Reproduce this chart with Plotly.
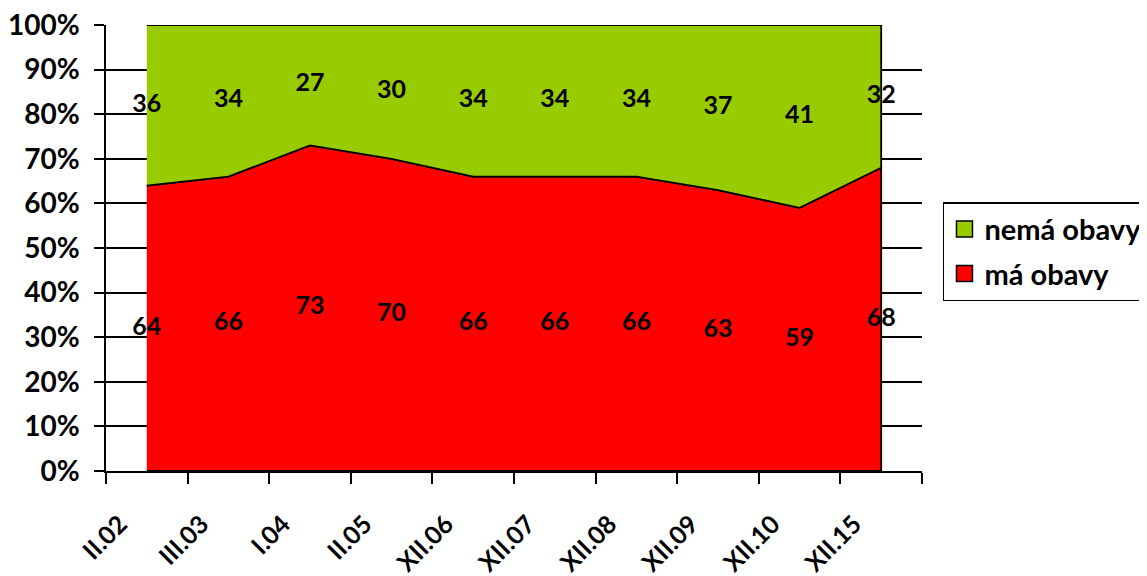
import plotly.graph_objects as go

categories = ["II.02", "III.03", "I.04", "II.05", "XII.06", "XII.07", "XII.08", "XII.09", "XII.10", "XII.15"]
ma_obavy = [64, 66, 73, 70, 66, 66, 66, 63, 59, 68]
nema_obavy = [36, 34, 27, 30, 34, 34, 34, 37, 41, 32]
y_ticks = list(range(0, 101, 10))

RED = "#FF0000"
GREEN = "#99CC00"
FONT = "Lato"

top_red = ma_obavy
top_green = [a + b for a, b in zip(ma_obavy, nema_obavy)]
zeros = [0] * len(categories)

fig = go.Figure()

fig.add_trace(go.Scatter(
    x=categories + categories[::-1],
    y=top_red + zeros[::-1],
    fill="toself", fillcolor=RED, mode="lines",
    line=dict(color="black", width=1.8),
    showlegend=False, hoverinfo="skip",
))
fig.add_trace(go.Scatter(
    x=categories + categories[::-1],
    y=top_green + top_red[::-1],
    fill="toself", fillcolor=GREEN, mode="lines",
    line=dict(color="black", width=1.8),
    showlegend=False, hoverinfo="skip",
))

fig.add_trace(go.Scatter(
    x=categories, y=[v / 2 for v in ma_obavy], mode="text",
    text=[str(v) for v in ma_obavy], textposition="middle center",
    textfont=dict(family=FONT, size=25, color="black", weight="bold"),
    showlegend=False, hoverinfo="skip",
))
fig.add_trace(go.Scatter(
    x=categories, y=[a + b / 2 for a, b in zip(ma_obavy, nema_obavy)], mode="text",
    text=[str(v) for v in nema_obavy], textposition="middle center",
    textfont=dict(family=FONT, size=25, color="black", weight="bold"),
    showlegend=False, hoverinfo="skip",
))

# legend entries (square swatches)
fig.add_trace(go.Scatter(
    x=[None], y=[None], mode="markers", name="nemá obavy", legendgroup="g1",
    marker=dict(symbol="square", size=20, color=GREEN, line=dict(color="black", width=1.5)),
))
fig.add_trace(go.Scatter(
    x=[None], y=[None], mode="markers", name="má obavy", legendgroup="g2",
    marker=dict(symbol="square", size=20, color=RED, line=dict(color="black", width=1.5)),
))

# page body has an 8px margin; figure coords = page coords - 8
fig.update_layout(
    width=1139, height=568,
    margin=dict(l=98, r=225, t=17, b=105, autoexpand=False),
    paper_bgcolor="white", plot_bgcolor="white",
    font=dict(family=FONT, size=28, color="black", weight="bold"),
    showlegend=True,
    legend=dict(
        x=1.0257, y=0.6030, xanchor="left", yanchor="top",
        bordercolor="black", borderwidth=1.5, bgcolor="white",
        tracegroupgap=4, itemsizing="trace",
        font=dict(family=FONT, size=29, color="black", weight="bold"),
    ),
    xaxis=dict(
        type="category", categoryorder="array", categoryarray=categories,
        range=[-0.5, len(categories) - 0.5], automargin=False,
        showline=True, linecolor="black", linewidth=1.5,
        ticks="outside", tickson="boundaries", ticklen=11, tickcolor="black", tickwidth=1.5,
        tickangle=-45, showgrid=False, zeroline=False,
        tickfont=dict(family=FONT, size=25, color="black", weight="bold"),
        ticklabelshift=-27, ticklabelstandoff=27, ticklabeloverflow="allow",
    ),
    yaxis=dict(
        range=[0, 100], tickvals=y_ticks, ticktext=[f"{v}%" for v in y_ticks],
        automargin=False,
        showline=True, linecolor="black", linewidth=1.5,
        ticks="outside", ticklen=10, tickcolor="black", tickwidth=1.5,
        ticklabelstandoff=9, ticklabeloverflow="allow",
        showgrid=True, gridcolor="black", gridwidth=1.5, zeroline=False,
    ),
)

fig.write_html("out.html")
